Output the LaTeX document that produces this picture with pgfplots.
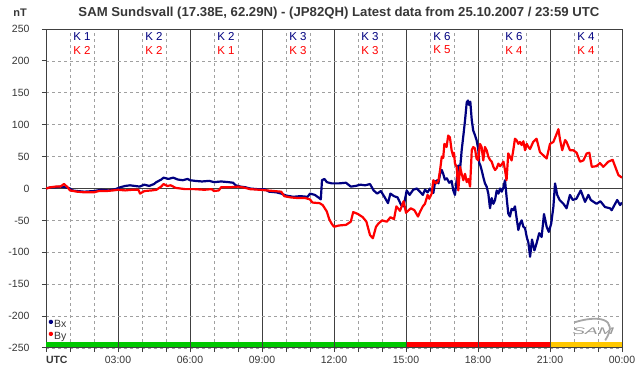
\documentclass[border=0pt]{standalone}
\usepackage{pgfplots}
\pgfplotsset{compat=1.18}
\usepackage{fontspec}
\setmainfont{Liberation Sans}
\definecolor{bxc}{RGB}{0,0,128}
\definecolor{byc}{RGB}{255,0,0}
\definecolor{axc}{RGB}{64,64,64}
\definecolor{txt}{RGB}{55,55,55}
\definecolor{dgrid}{RGB}{160,160,160}
\definecolor{kgreen}{RGB}{0,200,0}
\definecolor{kred}{RGB}{255,0,0}
\definecolor{kyel}{RGB}{255,200,0}
\pgfplotstableread{
h v
0.0 0
0.2 2
0.4 2
0.6 3
0.8 2
1.0 0
1.1 -3
1.3 -4
1.6 -5
2.0 -4
2.3 -2
2.6 -3
2.9 -1
3.1 2
3.3 4
3.5 5
3.7 4
3.9 3
4.1 6
4.3 4
4.5 7
4.6 10
4.8 14
4.9 17
5.1 15
5.3 17
5.5 14
5.7 13
5.9 15
6.0 13
6.2 12
6.5 11
6.8 12
7.0 10
7.3 11
7.6 10
7.8 9
7.9 5
8.1 3
8.3 2
8.5 0
8.8 -1
9.1 -1
9.3 -5
9.6 -6
9.8 -8
10.0 -11
10.3 -13
10.6 -12
10.9 -13
11.0 -8
11.2 -10
11.35 -14
11.45 -17
11.5 13
11.6 15
11.7 10
11.9 8
12.2 8
12.5 9
12.7 3
12.9 4
13.1 6
13.3 5
13.5 7
13.65 -3
13.8 -8
13.95 -4
14.1 -13
14.25 -23
14.35 -8
14.5 -12
14.65 -14
14.8 -26
14.9 -28
15.03 -3
15.15 -10
15.3 -2
15.45 0
15.58 -5
15.7 -10
15.79 -2
15.9 -6
16.0 0
16.14 -7
16.21 10
16.3 13
16.35 8
16.42 23
16.49 29
16.55 23
16.62 14
16.7 16
16.8 9
16.9 12
16.97 -3
17.04 -10
17.11 13
17.18 36
17.25 29
17.32 60
17.39 83
17.46 107
17.53 135
17.58 138
17.63 131
17.68 136
17.74 107
17.8 91
17.87 84
17.94 76
18.01 62
18.05 40
18.1 36
18.15 29
18.22 18
18.29 8
18.36 3
18.43 -8
18.5 -31
18.57 -15
18.64 -24
18.71 -18
18.78 -3
18.85 -8
18.92 0
18.99 -5
19.06 2
19.125 13
19.19 -13
19.26 -39
19.33 -44
19.4 -32
19.47 -34
19.54 -28
19.6 -44
19.68 -65
19.75 -55
19.82 -50
19.89 -60
19.96 -62
20.03 -76
20.1 -85
20.17 -107
20.25 -80
20.35 -97
20.44 -86
20.55 -70
20.65 -76
20.75 -40
20.86 -60
20.95 -68
21.05 -55
21.14 -29
21.21 8
21.3 -10
21.4 -18
21.56 -24
21.69 -31
21.83 -10
21.95 -18
22.1 -16
22.28 -3
22.46 -21
22.6 -10
22.7 -18
22.94 -24
23.1 -20
23.29 -29
23.5 -31
23.57 -34
23.8 -18
23.92 -26
24.0 -22
}\bx
\pgfplotstableread{
h v
0.0 0
0.2 2
0.4 3
0.6 3
0.75 7
0.9 2
1.0 -3
1.3 -5
1.6 -6
2.0 -6
2.2 -4
2.5 -4
2.8 -3
3.0 -2
3.3 -3
3.6 -2
3.85 -2
3.92 -8
4.1 -4
4.4 -3
4.6 -2
4.8 3
4.9 7
5.05 4
5.2 5
5.4 1
5.6 0
5.8 -1
6.2 -1
6.6 -2
6.9 -1
7.0 -4
7.2 -3
7.3 2
7.7 2
8.0 3
8.3 1
8.5 -1
8.9 -2
9.2 -3
9.5 -4
9.8 -5
9.93 -12
10.2 -14
10.5 -15
10.8 -15
11.0 -17
11.1 -22
11.4 -23
11.53 -26
11.7 -36
11.8 -48
11.9 -55
12.0 -60
12.2 -58
12.5 -57
12.7 -52
12.8 -37
13.0 -40
13.2 -45
13.35 -52
13.5 -73
13.62 -78
13.75 -60
13.85 -55
14.0 -50
14.2 -52
14.35 -45
14.5 -48
14.6 -28
14.75 -35
14.9 -20
15.0 -38
15.2 -31
15.35 -34
15.5 -44
15.58 -37
15.7 -28
15.79 -24
15.9 -10
15.97 -16
16.07 -8
16.14 13
16.25 8
16.35 12
16.42 29
16.49 50
16.55 48
16.6 70
16.69 65
16.76 83
16.83 80
16.9 60
16.97 50
17.0 56
17.04 39
17.11 34
17.18 -3
17.25 34
17.32 23
17.39 13
17.46 23
17.53 10
17.6 15
17.67 3
17.74 60
17.8 65
17.87 63
17.94 47
18.01 44
18.08 70
18.15 65
18.22 44
18.29 65
18.36 60
18.43 50
18.5 45
18.57 42
18.64 34
18.71 29
18.78 32
18.85 39
18.92 35
18.99 38
19.06 42
19.125 29
19.19 13
19.26 55
19.33 50
19.4 44
19.47 60
19.54 78
19.6 76
19.68 70
19.75 73
19.82 68
19.89 74
19.96 60
20.03 70
20.1 65
20.17 62
20.3 73
20.44 78
20.58 57
20.72 52
20.86 47
21.0 70
21.14 73
21.28 86
21.35 93
21.42 76
21.51 60
21.63 76
21.69 73
21.83 60
21.97 60
22.11 56
22.25 42
22.39 44
22.53 55
22.64 56
22.74 34
22.94 35
23.08 40
23.22 34
23.43 42
23.61 45
23.75 31
23.85 21
24.0 17
}\by
\begin{document}
\begin{tikzpicture}
\fill[white] (0,0) rectangle (642bp,376bp);
\node[text=txt, inner sep=0pt] at (339bp,363bp) {\resizebox{521bp}{\height}{\fontsize{13bp}{15bp}\selectfont\bfseries SAM Sundsvall (17.38E, 62.29N) - (JP82QH) Latest data from 25.10.2007 / 23:59 UTC}};
\node[text=txt, inner sep=0pt] at (20bp,363bp) {\fontsize{11bp}{13bp}\selectfont\bfseries nT};
\begin{axis}[
  at={(46bp,28bp)}, anchor=south west,
  width=576bp, height=319bp, scale only axis,
  xmin=0, xmax=24, ymin=-250, ymax=250,
  xtick={0,3,...,24},
  xticklabels={\makebox[0pt][l]{\bfseries UTC},03:00,06:00,09:00,12:00,15:00,18:00,21:00,00:00},
  minor xtick={1,2,4,5,7,8,10,11,13,14,16,17,19,20,22,23},
  ytick={-250,-200,...,250},
  xmajorgrids, xminorgrids, ymajorgrids,
  major x grid style={solid, color=axc, line width=1bp},
  minor x grid style={color=dgrid, line width=0.8bp, dash pattern=on 3bp off 3bp},
  major y grid style={color=dgrid, line width=0.8bp, dash pattern=on 3bp off 3bp},
  axis line style={color=axc, line width=1bp},
  tick align=outside, xtick pos=bottom, ytick pos=left,
  major tick length=4bp, minor tick length=4bp,
  tick style={color=axc, line width=1bp},
  /pgf/number format/assume math mode=true,
  yticklabel style={font=\fontsize{10.5bp}{12bp}\selectfont, text=txt, xshift=-9bp},
  xticklabel style={font=\fontsize{10.5bp}{12bp}\selectfont, text=txt, yshift=-1bp},
  legend style={draw=none, fill=none, at={(axis description cs:0.004,0.018)}, anchor=south west,
     font=\fontsize{10.5bp}{12bp}\selectfont, inner sep=0pt, row sep=1.5bp, text=txt,
     nodes={inner sep=0.8bp}},
  legend cell align=left,
  legend image code/.code={\fill (0.12em,0.3em) circle (1.3bp);},
  clip=true,
]
\addplot[fill=kgreen, draw=none, forget plot] coordinates {(0,-249.2) (15,-249.2) (15,-241) (0,-241)} -- cycle;
\addplot[fill=kred, draw=none, forget plot] coordinates {(15,-249.2) (21,-249.2) (21,-241) (15,-241)} -- cycle;
\addplot[fill=kyel, draw=none, forget plot] coordinates {(21,-249.2) (24,-249.2) (24,-241) (21,-241)} -- cycle;
\addplot[axc, line width=1bp, forget plot] coordinates {(3,-250) (3,-241)};
\addplot[axc, line width=1bp, forget plot] coordinates {(6,-250) (6,-241)};
\addplot[axc, line width=1bp, forget plot] coordinates {(9,-250) (9,-241)};
\addplot[axc, line width=1bp, forget plot] coordinates {(12,-250) (12,-241)};
\addplot[axc, line width=1bp, forget plot] coordinates {(15,-250) (15,-241)};
\addplot[axc, line width=1bp, forget plot] coordinates {(18,-250) (18,-241)};
\addplot[axc, line width=1bp, forget plot] coordinates {(21,-250) (21,-241)};
\addplot[axc, line width=1bp, forget plot] coordinates {(0,0) (24,0)};
\addplot[bxc, line width=2.2bp, line join=round] table[x=h, y=v] {\bx};
\addlegendentry{Bx}
\addplot[byc, line width=2.2bp, line join=round] table[x=h, y=v] {\by};
\addlegendentry{By}
\foreach \k/\a/\b in {1.5/1/2, 4.5/2/2, 7.5/2/1, 10.5/3/3, 13.5/3/3, 16.5/6/5, 19.5/6/4, 22.5/4/4} {
  \edef\tmp{\noexpand\node[text=bxc, font=\noexpand\fontsize{11.5bp}{13bp}\noexpand\selectfont, inner sep=0pt] at (axis cs:\k,238) {K \a};
  \noexpand\node[text=byc, font=\noexpand\fontsize{11.5bp}{13bp}\noexpand\selectfont, inner sep=0pt] at (axis cs:\k,217) {K \b};}
  \tmp
}
\node[text=gray!80, inner sep=0pt, font=\fontsize{12bp}{13bp}\selectfont\itshape] at (axis cs:22.8,-223) {\scalebox{1.6}[0.8]{SAM}};
\draw[gray!70, line width=1.8bp] (axis cs:22.0,-210) .. controls (axis cs:23.0,-198) and (axis cs:23.9,-203) .. (axis cs:23.3,-238);
\end{axis}
\end{tikzpicture}
\end{document}
